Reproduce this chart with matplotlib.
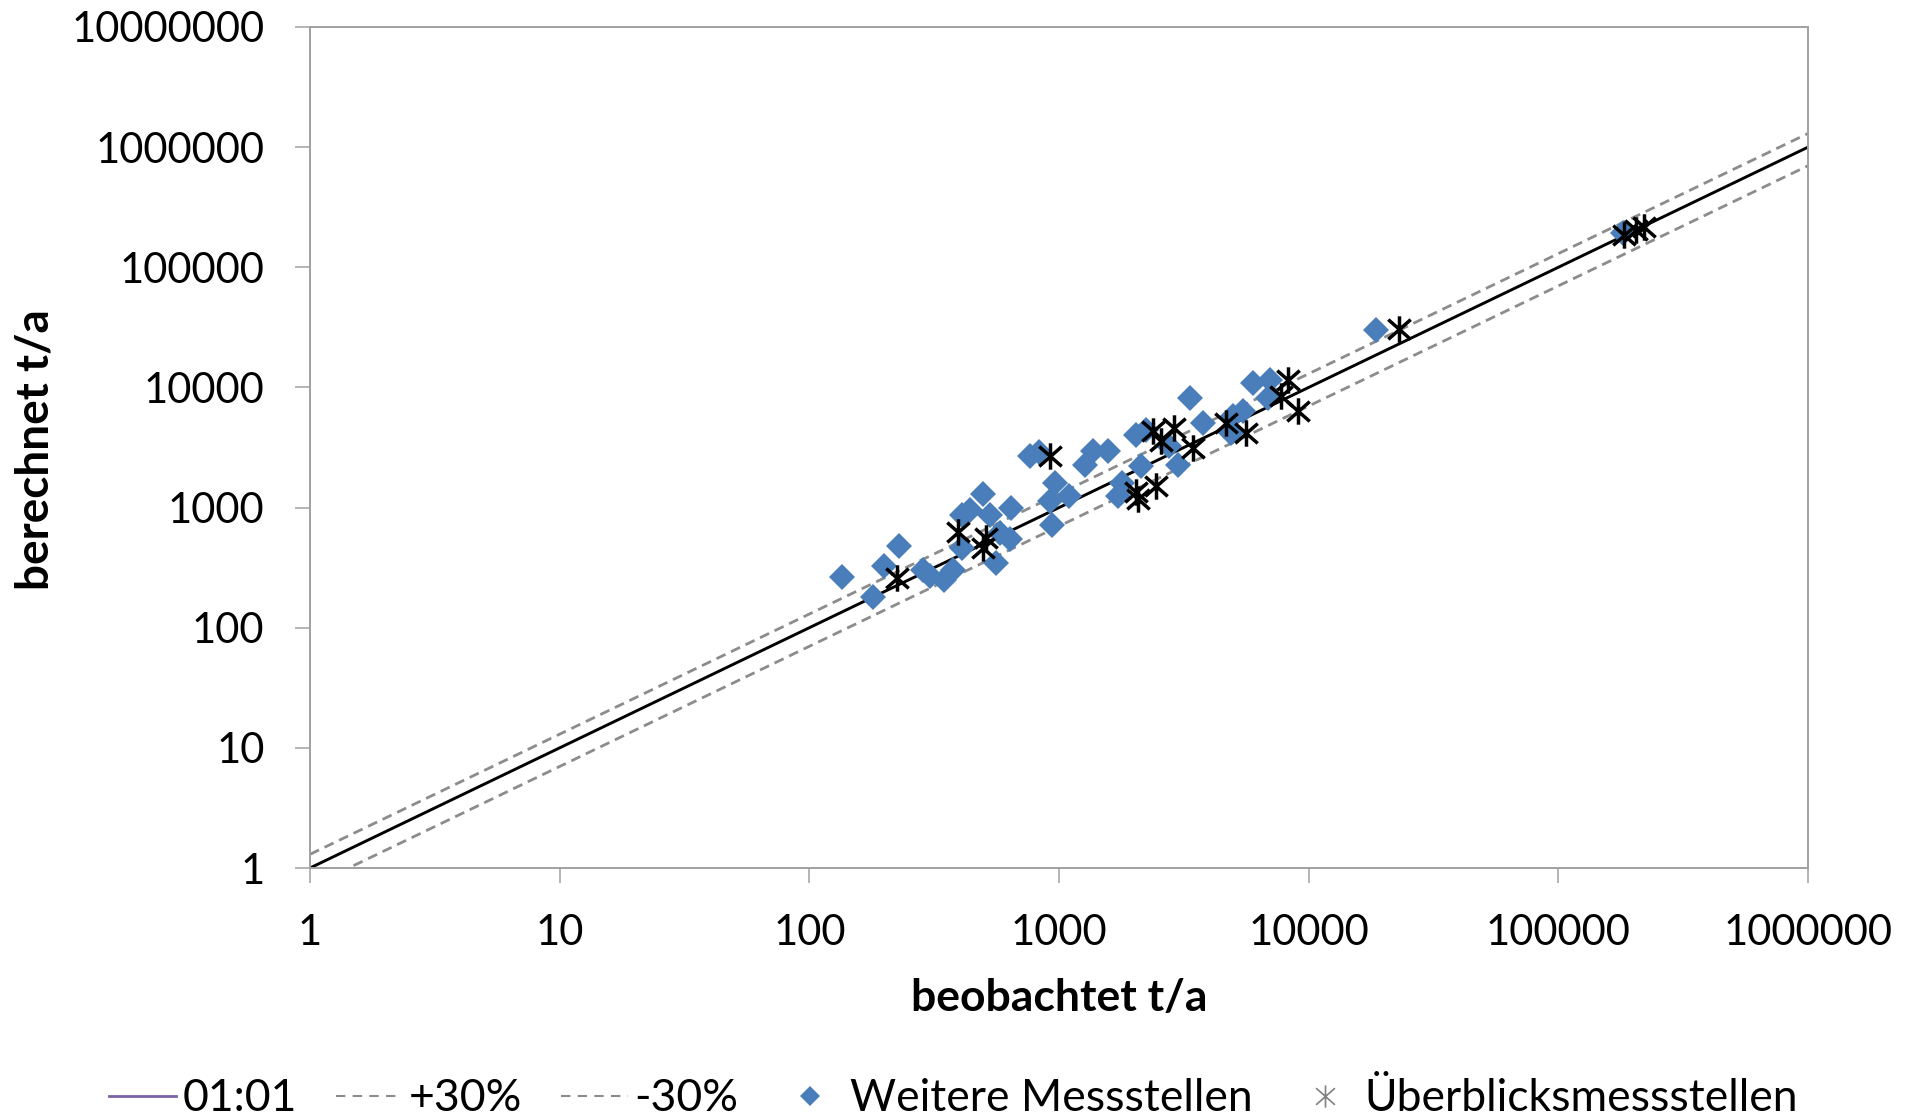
import numpy as np
import matplotlib.pyplot as plt
from matplotlib.path import Path
from matplotlib.lines import Line2D
from matplotlib.ticker import FuncFormatter, NullLocator

plt.rcParams['font.family'] = ['Lato', 'DejaVu Sans']

# Weitere Messstellen (beobachtet, berechnet) in t/a
weitere_x = [135, 180, 200, 228, 285, 305, 345, 375, 410, 440, 495, 530, 410, 580,
             635, 560, 645, 765, 835, 960, 920, 1100, 935, 1370, 1570, 1270, 1780,
             1720, 2040, 2240, 2770, 3000, 2140, 3340, 3770, 4970, 5450, 4900,
             5970, 6970, 6870, 18600, 181000]
weitere_y = [265, 180, 325, 475, 305, 270, 250, 305, 875, 960, 1285, 875, 465, 615,
             545, 345, 1000, 2700, 2900, 1600, 1130, 1240, 720, 2950, 2950, 2280, 1600,
             1240, 4000, 4400, 3240, 2280, 2210, 8200, 5060, 5750, 6320, 4190,
             10900, 11600, 8190, 30000, 192000]

# Überblicksmessstellen
ueberblick_x = [225, 395, 510, 495, 920, 2040, 2070, 2450, 2380, 2570, 2900, 3440,
                4680, 5620, 8250, 7760, 9050, 23100, 184000, 205000, 221000]
ueberblick_y = [260, 625, 560, 465, 2680, 1350, 1170, 1500, 4300, 3560, 4600, 3140,
                5060, 4190, 11600, 8440, 6320, 30500, 186000, 205000, 218000]

line_x = np.array([1, 1e6])
dash_grey = '#8c8c8c'
blue = '#4a7ebb'

star = Path([(0, -1), (0, 1), (-0.85, -0.75), (0.85, 0.75), (-0.85, 0.75), (0.85, -0.75)],
            [Path.MOVETO, Path.LINETO, Path.MOVETO, Path.LINETO, Path.MOVETO, Path.LINETO])

fig = plt.figure(figsize=(19.19, 11.18), dpi=100)
ax = fig.add_axes([310 / 1919, 1 - 868 / 1118, 1498 / 1919, 841 / 1118])

ax.plot(line_x, line_x, color='black', lw=2.1, zorder=2)
ax.plot(line_x, 1.3 * line_x, color=dash_grey, lw=2.0, ls=(0, (3.6, 2.2)), zorder=2)
ax.plot(line_x, 0.7 * line_x, color=dash_grey, lw=2.0, ls=(0, (3.6, 2.2)), zorder=2)
ax.plot(weitere_x, weitere_y, ls='none', marker='D', ms=13, color=blue, mew=0, zorder=3)
ax.plot(ueberblick_x, ueberblick_y, ls='none', marker=star, ms=19, mec='black',
        mfc='none', mew=2.5, zorder=4)

ax.set_xscale('log')
ax.set_yscale('log')
ax.set_xlim(1, 1e6)
ax.set_ylim(1, 1e7)
ax.set_xticks([10 ** i for i in range(7)])
ax.set_yticks([10 ** i for i in range(8)])
fmt = FuncFormatter(lambda v, p: f"{v:.0f}")
ax.xaxis.set_major_formatter(fmt)
ax.yaxis.set_major_formatter(fmt)
ax.xaxis.set_minor_locator(NullLocator())
ax.yaxis.set_minor_locator(NullLocator())
ax.tick_params(which='major', direction='out', length=10.8, width=1.1, color='#a0a0a0',
               labelsize=30, pad=22)
for s in ax.spines.values():
    s.set_color('#a0a0a0')
    s.set_linewidth(1.4)

ax.set_xlabel('beobachtet t/a', fontsize=32, fontweight='bold', va='center')
ax.xaxis.set_label_coords(0.5, -0.154)
ax.set_ylabel('berechnet t/a', fontsize=33, fontweight='bold', va='center')
ax.yaxis.set_label_coords(-0.183, 0.497)

handles = [
    Line2D([], [], color='#7b62a3', lw=2),
    Line2D([], [], color=dash_grey, lw=1.5, ls=(0, (4.5, 3.5))),
    Line2D([], [], color=dash_grey, lw=1.5, ls=(0, (4.5, 3.5))),
    Line2D([], [], ls='none', marker='D', ms=10, color=blue, mew=0),
    Line2D([], [], ls='none', marker=star, ms=16, mec='#808080', mfc='none', mew=1.2),
]
labels = ['01:01', '+30%', '-30%', 'Weitere Messstellen', 'Überblicksmessstellen']
fig.legend(handles, labels, loc='lower center', bbox_to_anchor=(0.497, -0.005), ncol=5,
           frameon=False, fontsize=32, handlelength=1.5, handletextpad=0.14,
           columnspacing=0.88, borderpad=0.1, borderaxespad=0)

fig.savefig('out.png', dpi=100)
